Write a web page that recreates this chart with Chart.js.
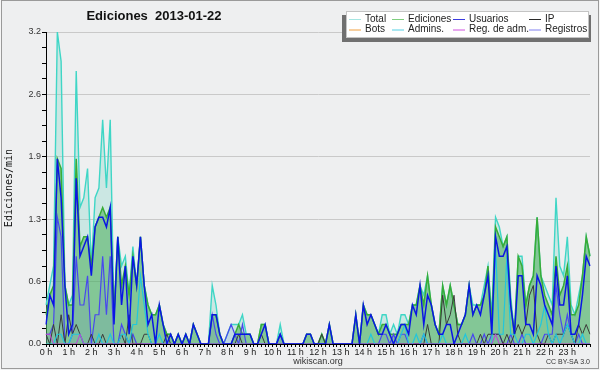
<!DOCTYPE html>
<html><head><meta charset="utf-8">
<script src="https://cdn.jsdelivr.net/npm/chart.js@4/dist/chart.umd.min.js"></script>
<style>html,body{margin:0;padding:0;background:#f5f5f5}canvas{display:block}</style>
</head><body>
<canvas id="c" width="600" height="370"></canvas>
<script>
// ---- data (10-minute bins, edits per minute) ----
const hourLabels = ['0 h','1 h','2 h','3 h','4 h','5 h','6 h','7 h','8 h','9 h','10 h','11 h','12 h','13 h','14 h','15 h','16 h','17 h','18 h','19 h','20 h','21 h','22 h','23 h'];
const yTickLabels = ['0.0','0.6','1.3','1.9','2.6','3.2'];
const times = [];
for (let h = 0; h <= 24; h++) for (let m = 0; m < 60; m += 10) { if (h === 24 && m > 0) break; times.push(h + ':' + (m < 10 ? '0' : '') + m); }

const total = [
0.4,0.6,0.8,3.2,2.9,0.6, 0.4,0.5,2.8,1.4,1.5,1.8, 0.8,1.5,1.6,2.3,1.6,2.3, 0.3,1.1,0.8,0.9,0.5,1.0,
0.6,1.1,0.6,0.4,0.3,0.3, 0.4,0.2,0.1,0.1,0,0.1, 0,0.1,0,0.2,0.1,0, 0,0,0.6,0.4,0.1,0,
0.1,0.2,0.2,0.2,0.3,0.1, 0.1,0,0,0.2,0.2,0, 0,0,0.2,0,0,0, 0,0,0,0.1,0.1,0,
0,0.1,0,0.2,0,0, 0,0,0,0,0.3,0, 0.4,0.3,0.3,0.2,0.1,0.3, 0.3,0.1,0.2,0.1,0.3,0.3,
0.2,0.4,0.4,0.6,0.5,0.7, 0.4,0.2,0.1,0.6,0.4,0.6, 0.4,0.2,0.2,0.3,0.6,0.4, 0.4,0.4,0.6,0.8,0.3,1.3,
1.2,1.0,1.1,0.5,0.1,0.9, 0.9,0.4,0.6,0.7,1.3,0.7, 0.6,0.5,0.4,1.5,0.8,0.7, 1.1,0.4,0.3,0.5,0.7,1.1, 0.9];
const ediciones = [
0.3,0.5,0.6,1.9,1.8,0.6, 0.4,0.4,1.9,1.0,1.1,1.1, 0.8,1.2,1.3,1.4,1.3,1.4, 0.3,1.1,0.6,0.8,0.5,0.9,
0.6,1.1,0.6,0.4,0.3,0.3, 0.4,0.2,0.1,0.1,0,0.1, 0,0.1,0,0.2,0.1,0, 0,0,0.3,0.3,0.1,0,
0,0,0.1,0.2,0.1,0.1, 0.1,0,0,0.2,0.2,0, 0,0,0.1,0,0,0, 0,0,0,0.1,0.1,0,
0,0.1,0,0.2,0,0, 0,0,0,0,0.3,0, 0.4,0.3,0.3,0.2,0.1,0.2, 0.2,0.1,0.1,0.1,0.2,0.2,
0.2,0.4,0.4,0.6,0.4,0.7, 0.4,0.2,0.1,0.6,0.4,0.6, 0.4,0.2,0.2,0.3,0.6,0.3, 0.4,0.4,0.5,0.8,0.2,1.2,
1.1,1.0,1.1,0.4,0.1,0.9, 0.8,0.4,0.6,0.7,1.3,0.7, 0.5,0.4,0.3,0.9,0.5,0.6, 0.8,0.3,0.3,0.4,0.7,1.1, 0.9];
const usuarios = [
0.2,0.5,0.4,1.9,1.5,0.6, 0.1,0.2,1.7,0.9,1.0,1.1, 0.7,1.2,1.3,1.3,1.2,1.4, 0.2,1.1,0.4,0.8,0.1,0.9,
0.6,1.1,0.6,0.2,0.3,0, 0.4,0.2,0,0.1,0,0.1, 0,0.1,0,0.2,0.1,0, 0,0,0.3,0.3,0.1,0,
0,0,0.1,0.1,0.1,0.1, 0.1,0,0,0.1,0.2,0, 0,0,0.1,0,0,0, 0,0,0,0.1,0.1,0,
0,0,0,0.2,0,0, 0,0,0,0,0.3,0, 0.4,0.2,0.3,0.2,0.1,0.1, 0.2,0.1,0,0.1,0.2,0.2,
0.1,0.4,0.3,0.6,0.2,0.5, 0.4,0.2,0.1,0.1,0.2,0.2, 0,0.1,0.2,0.3,0.6,0.3, 0.4,0.3,0.5,0.7,0.1,1.1,
0.9,0.9,1.0,0.4,0.1,0.7, 0.7,0.2,0.2,0.1,0.7,0.6, 0.4,0.3,0.2,0.8,0.4,0.4, 0.7,0.1,0.1,0.2,0.5,0.9, 0.8];
const ip = [
0.1,0,0.2,0,0.3,0, 0.3,0.1,0.2,0.1,0,0, 0.1,0,0,0.1,0,0, 0,0,0.1,0,0.3,0,
0,0,0.1,0.1,0,0, 0,0,0.1,0,0,0, 0,0,0,0,0,0, 0,0,0,0,0,0,
0,0,0,0.1,0,0, 0,0,0,0.1,0,0, 0,0,0,0,0,0, 0,0,0,0,0,0,
0,0.1,0,0,0,0, 0,0,0,0,0,0, 0,0,0,0,0,0, 0,0,0,0,0,0,
0,0,0,0,0,0.2, 0,0,0,0.5,0.2,0.3, 0.5,0.1,0,0,0,0, 0,0.1,0,0.1,0.1,0.1,
0.1,0,0.1,0,0.1,0.2, 0.1,0.2,0.5,0.6,0.1,0, 0,0.1,0,0.1,0.1,0.1, 0.2,0.1,0,0.2,0.1,0.2, 0.1];
const bots = [
0,0,0,0,0,0, 0,0,0,0,0,0, 0,0,0,0,0,0, 0,0,0,0,0,0,
0,0,0,0,0,0, 0,0,0,0,0,0, 0,0,0,0,0,0, 0,0,0,0,0,0,
0,0,0,0,0,0, 0,0,0,0,0,0, 0,0,0,0,0,0, 0,0,0,0,0,0,
0,0,0,0,0,0, 0,0,0,0,0,0, 0,0,0,0,0,0, 0,0,0,0,0,0,
0,0,0,0,0,0, 0,0,0,0,0,0, 0,0,0,0,0,0, 0,0,0,0,0,0,
0,0,0,0,0,0, 0,0,0,0,0,0, 0,0,0,0,0,0, 0,0,0,0,0,0, 0];
const admins = [
0,0,0,0.1,0.1,0, 0,0.1,0.1,0.1,0,0, 0,0,0.1,0,0,0.1, 0,0,0.1,0.1,0,0.2,
0.2,0.7,0.4,0.1,0,0, 0.1,0,0,0,0,0, 0,0,0,0,0,0, 0,0,0,0,0,0,
0,0,0,0,0,0, 0,0,0,0,0,0, 0,0,0,0,0,0, 0,0,0,0,0,0,
0,0,0,0,0,0, 0,0,0,0,0,0, 0,0,0.1,0,0,0, 0,0,0,0,0.1,0.2,
0,0,0.1,0,0.1,0, 0,0,0,0.1,0,0, 0,0,0,0.1,0,0, 0,0,0,0,0,1.0,
0.1,0.1,0.9,0.1,0.1,0, 0,0.1,0.1,0,0.1,0.2, 0.4,0.1,0,0.1,0,0.1, 0.2,0.1,0,0,0.1,0, 0];
const regAdm = [
0.1,0.1,0,0,0,0, 0,0,0,0.1,0,0, 0,0,0,0,0,0, 0,0,0,0,0,0,
0,0,0,0,0,0, 0,0,0,0,0,0, 0,0,0,0,0,0, 0,0,0,0,0,0,
0,0,0,0,0,0, 0,0,0,0,0,0, 0,0,0,0,0,0, 0,0,0,0,0,0,
0,0,0,0,0,0, 0,0,0,0,0,0, 0,0,0,0,0,0, 0,0,0,0,0,0,
0,0,0,0,0,0, 0,0,0,0,0,0, 0,0,0,0,0,0, 0,0,0,0,0,0.1,
0,0,0,0,0,0, 0,0,0,0,0,0, 0,0,0,0,0,0, 0,0,0,0,0,0, 0];
const registros = [
0.1,0.1,0.2,1.3,1.1,0, 0,0.1,0.9,0.4,0.4,0.7, 0,0.3,0.3,0.9,0.3,0.9, 0,0,0.2,0.1,0,0.1,
0,0,0,0,0,0, 0,0,0,0,0,0, 0,0,0,0,0,0, 0,0,0.3,0.1,0,0,
0.1,0.2,0.1,0,0.2,0, 0,0,0,0,0,0, 0,0,0.1,0,0,0, 0,0,0,0,0,0,
0,0,0,0,0,0, 0,0,0,0,0,0, 0,0,0,0,0,0.1, 0.1,0,0.1,0,0.1,0.1,
0,0,0,0,0.1,0, 0,0,0,0,0,0, 0,0,0,0,0,0.1, 0,0,0.1,0,0.1,0.1,
0.1,0,0,0.1,0,0, 0.1,0,0,0,0,0, 0.1,0.1,0.1,0.6,0.3,0.1, 0.3,0.1,0,0.1,0,0, 0];

// legend entries (order as in the picture)
const legendItems = [
  ['Total', '#a6e6e2'], ['Ediciones', '#7fcf7f'], ['Usuarios', '#3b3be0'], ['IP', '#2a2a2a'],
  ['Bots', '#f0a040'], ['Admins.', '#55d0e4'], ['Reg. de adm.', '#d050e0'], ['Registros', '#8080f0']
];

const deco = {
  id: 'deco',
  beforeDraw(chart) {
    const c = chart.ctx;
    c.save();
    c.fillStyle = '#f6f6f6'; c.fillRect(0, 0, 600, 370);
    c.fillStyle = '#eeeff0'; c.fillRect(1, 0, 598, 370);
    c.restore();
  },
  afterDraw(chart) {
    const c = chart.ctx;
    c.save();
    // frame
    c.strokeStyle = '#9a9a9a'; c.lineWidth = 1;
    c.strokeRect(1.5, 0.5, 597, 368);
    // title
    c.fillStyle = '#111';
    c.font = 'bold 13px "Liberation Sans", Arial, sans-serif';
    c.textAlign = 'center'; c.textBaseline = 'middle';
    c.fillText('Ediciones  2013-01-22', 154, 16);
    // legend box with shadow
    c.fillStyle = '#707070'; c.fillRect(342, 15, 249, 27);
    c.fillStyle = '#ffffff'; c.fillRect(346, 11, 243, 27);
    c.strokeStyle = '#c4c4c4'; c.strokeRect(346.5, 11.5, 242, 26);
    const cols = [349, 392, 453, 529];
    const rows = [19, 29.5];
    c.font = '10px "Liberation Sans", Arial, sans-serif';
    c.textAlign = 'left'; c.textBaseline = 'middle';
    legendItems.forEach((it, k) => {
      const x = cols[k % 4], y = rows[Math.floor(k / 4)];
      c.strokeStyle = it[1]; c.lineWidth = 1;
      c.beginPath(); c.moveTo(x, y + 0.5); c.lineTo(x + 12, y + 0.5); c.stroke();
      c.fillStyle = '#222';
      c.fillText(it[0], x + 16, y);
    });
    // licence
    c.font = '7px "Liberation Sans", Arial, sans-serif';
    c.fillStyle = '#333'; c.textAlign = 'right';
    c.fillText('CC BY-SA 3.0', 590, 362);
    c.restore();
  }
};

const line = (label, data, color, width, order, fillColor) => ({
  label, data, borderColor: color, borderWidth: width, order,
  pointRadius: 0, tension: 0,
  fill: fillColor ? 'origin' : false,
  backgroundColor: fillColor || color
});

new Chart(document.getElementById('c'), {
  type: 'line',
  data: {
    labels: times,
    datasets: [
      line('Total', total, '#3fd6c6', 1.4, 9, 'rgba(130,215,200,0.32)'),
      line('Ediciones', ediciones, '#38ac38', 1.5, 8, 'rgba(45,160,55,0.45)'),
      line('Usuarios', usuarios, '#0a16e4', 1.5, 1),
      line('IP', ip, '#3a3a3a', 1, 5),
      line('Bots', bots, '#f0a030', 1, 10),
      line('Admins.', admins, '#22c6dc', 1.2, 4),
      line('Reg. de adm.', regAdm, '#c040d8', 1, 3),
      line('Registros', registros, '#4848ee', 1.2, 6, 'rgba(90,90,240,0.10)')
    ]
  },
  options: {
    responsive: false,
    devicePixelRatio: 1,
    animation: false,
    layout: { padding: { left: 2, right: 10, top: 32, bottom: 0 } },
    plugins: { legend: { display: false }, tooltip: { enabled: false } },
    scales: {
      x: {
        type: 'category',
        offset: false,
        z: 1,
        afterFit: s => { s.height = 26; },
        border: { color: '#000', width: 1 },
        grid: { drawOnChartArea: false, drawTicks: true, tickLength: 3, tickColor: '#000' },
        ticks: {
          autoSkip: false, maxRotation: 0, minRotation: 0, padding: 0,
          color: '#222', font: { family: '"Liberation Sans", Arial, sans-serif', size: 9 },
          callback: function (v, i) { return (i % 6 === 0 && i / 6 < hourLabels.length) ? hourLabels[i / 6] : ''; }
        },
        title: {
          display: true, text: 'wikiscan.org', color: '#333',
          font: { family: '"Liberation Sans", Arial, sans-serif', size: 9 },
          padding: { top: 0, bottom: 3 }
        }
      },
      y: {
        min: 0, max: 3.2,
        afterFit: s => { s.width = 44; },
        afterBuildTicks: s => {
          const t = [];
          for (let k = 0; k <= 20; k++) t.push({ value: Math.round(k * 16) / 100 });
          s.ticks = t;
        },
        border: { color: '#000', width: 1 },
        grid: {
          color: ctx => (ctx.index % 4 === 0 ? '#c9c9c9' : 'rgba(0,0,0,0)'),
          tickColor: '#000', tickLength: 4, drawTicks: true
        },
        ticks: {
          padding: 1, color: '#333',
          font: { family: '"Liberation Sans", Arial, sans-serif', size: 9 },
          callback: (v, i) => (i % 4 === 0 ? yTickLabels[i / 4] : '')
        },
        title: {
          display: true, text: 'Ediciones/min', color: '#111',
          font: { family: '"DejaVu Sans Mono", monospace', size: 10 },
          padding: { top: 1, bottom: 0 }
        }
      }
    }
  },
  plugins: [deco]
});
</script>
</body></html>
